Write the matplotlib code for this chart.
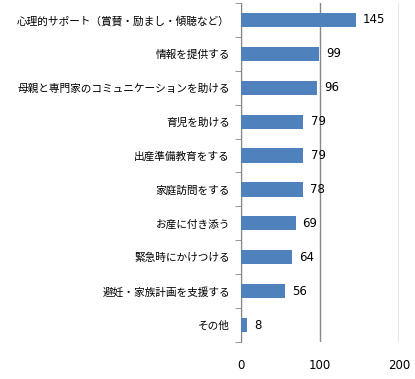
import matplotlib
matplotlib.use("Agg")
import matplotlib.pyplot as plt
import numpy as np

plt.rcParams['font.family'] = ['Noto Sans CJK JP', 'DejaVu Sans']

categories = ["心理的サポート（賞賛・励まし・傾聴など）", "情報を提供する",
              "母親と専門家のコミュニケーションを助ける", "育児を助ける",
              "出産準備教育をする", "家庭訪問をする", "お産に付き添う",
              "緊急時にかけつける", "避妊・家族計画を支援する", "その他"]
values = [145, 99, 96, 79, 79, 78, 69, 64, 56, 8]
xticks = [0, 100, 200]

fig = plt.figure(figsize=(4.15, 3.79), dpi=100)
ax = fig.add_axes([241 / 415, 1 - 342 / 379, 158 / 415, 339 / 379])

pos = np.arange(len(categories))
ax.barh(pos, values, height=0.42, color="#4F81BD", zorder=3)
for p, v in zip(pos, values):
    ax.text(v + 9, p, str(v), va="center", ha="left", fontsize=8.5,
            family="DejaVu Sans", zorder=4)

ax.set_xlim(0, 200)
ax.set_ylim(len(categories) - 0.5, -0.5)
ax.set_xticks(xticks)
ax.set_xticklabels([str(t) for t in xticks], family="DejaVu Sans", fontsize=8.5)
ax.tick_params(axis="x", length=0, pad=12)
ax.set_yticks(pos)
ax.set_yticklabels(categories, fontsize=7.7)
ax.tick_params(axis="y", which="major", length=0, pad=8)
ax.set_yticks(np.arange(len(categories) + 1) - 0.5, minor=True)
ax.tick_params(axis="y", which="minor", length=4, color="#878787")

ax.xaxis.grid(True, color="#878787", linewidth=1, zorder=0)
for s in ["top", "right", "bottom"]:
    ax.spines[s].set_visible(False)
ax.spines["left"].set_color("#878787")

fig.savefig("out.png", dpi=100)
